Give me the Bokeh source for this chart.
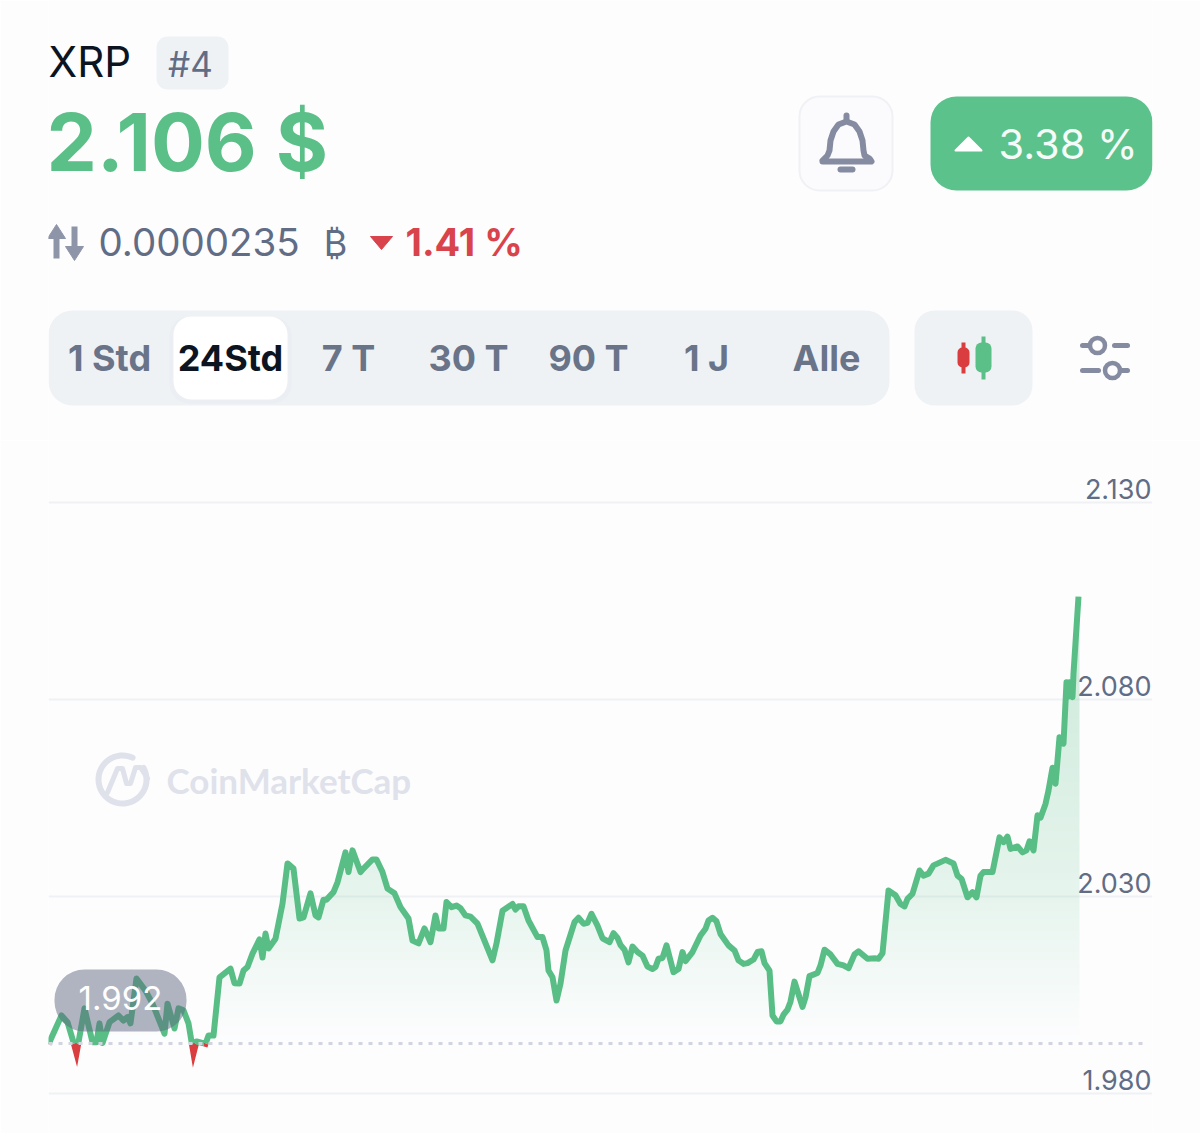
import numpy as np
from bokeh.core.properties import value
from bokeh.embed import file_html
from bokeh.layouts import column
from bokeh.models import FixedTicker, LinearAxis, NumeralTickFormatter, Range1d
from bokeh.plotting import figure
from bokeh.resources import INLINE

# ---------- data ----------
symbol = "XRP"
rank = "#4"
price_text = "2.106 $"
change_text = "3.38 %"
btc_price = "0.0000235"
btc_sign = "₿"
btc_change = "1.41 %"
periods = ["1 Std", "24Std", "7 T", "30 T", "90 T", "1 J", "Alle"]
watermark = "CoinMarketCap"
start_price = 1.9927
start_label = "1.992"
y_ticks = [1.98, 2.03, 2.08, 2.13]

elapsed = [0, 13, 19, 25, 28, 30, 36, 44, 48, 51, 54, 61, 70, 75, 79, 82, 88, 97, 104, 116, 119, 126,
           130, 135, 140, 143, 145, 148, 157, 160, 165, 171, 182, 186, 191, 195, 199, 204, 211, 214,
           217, 220, 227, 234, 239, 245, 251, 255, 262, 267, 270, 275, 278, 285, 289, 297, 300, 304,
           312, 315, 324, 328, 334, 339, 346, 352, 360, 364, 370, 376, 382, 387, 390, 395, 398, 403,
           408, 412, 417, 422, 429, 444, 448, 454, 464, 467, 470, 475, 480, 489, 494, 498, 500, 504,
           508, 512, 517, 526, 530, 535, 539, 543, 549, 554, 561, 565, 569, 572, 576, 580, 584, 589,
           594, 599, 604, 607, 610, 614, 618, 625, 630, 634, 637, 644, 652, 657, 660, 664, 668, 672,
           680, 686, 690, 695, 699, 705, 709, 713, 716, 721, 724, 728, 732, 735, 739, 742, 746, 754,
           757, 761, 769, 772, 776, 782, 789, 795, 800, 806, 810, 819, 827, 830, 834, 840, 847, 852,
           856, 859, 864, 871, 875, 880, 885, 897, 905, 909, 913, 919, 924, 928, 932, 935, 944, 951,
           955, 959, 962, 969, 974, 978, 981, 985, 989, 992, 997, 1000, 1004, 1007, 1011, 1015, 1018,
           1019, 1021, 1024, 1025, 1030]
prices = [1.9925, 1.9998, 1.9981, 1.9930, 1.9902, 1.9930, 2.0016, 1.9930, 1.9930, 1.9978, 1.9928, 1.9981,
          1.9998, 1.9985, 1.9994, 1.9978, 2.0092, 2.0061, 2.0028, 1.9952, 2.0028, 1.9965,
          2.0016, 2.0011, 1.9978, 1.9932, 1.9902, 1.9932, 1.9926, 1.9947, 1.9947, 2.0095, 2.0117, 2.0080,
          2.0079, 2.0112, 2.0121, 2.0155, 2.0191, 2.0145,
          2.0206, 2.0168, 2.0193, 2.0282, 2.0384, 2.0371, 2.0244, 2.0247, 2.0308, 2.0252, 2.0247, 2.0292,
          2.0292, 2.0311, 2.0336, 2.0412, 2.0362, 2.0417,
          2.0362, 2.0371, 2.0394, 2.0394, 2.0362, 2.0320, 2.0308, 2.0273, 2.0244, 2.0188, 2.0181, 2.0219,
          2.0184, 2.0252, 2.0219, 2.0219, 2.0286, 2.0273,
          2.0277, 2.0270, 2.0252, 2.0249, 2.0231, 2.0138, 2.0181, 2.0264, 2.0281, 2.0267, 2.0275, 2.0275,
          2.0239, 2.0197, 2.0197, 2.0163, 2.0112, 2.0095,
          2.0036, 2.0079, 2.0163, 2.0235, 2.0246, 2.0231, 2.0233, 2.0256, 2.0226, 2.0194, 2.0184, 2.0207,
          2.0195, 2.0177, 2.0165, 2.0133, 2.0173, 2.0159,
          2.0150, 2.0122, 2.0116, 2.0121, 2.0142, 2.0144, 2.0176, 2.0108, 2.0116, 2.0159, 2.0136, 2.0159,
          2.0201, 2.0218, 2.0239, 2.0246, 2.0237, 2.0205,
          2.0176, 2.0163, 2.0138, 2.0129, 2.0131, 2.0140, 2.0159, 2.0161, 2.0131, 2.0112, 1.9998, 1.9983,
          1.9983, 2.0000, 2.0013, 2.0033, 2.0084, 2.0020,
          2.0044, 2.0098, 2.0106, 2.0125, 2.0165, 2.0153, 2.0129, 2.0125, 2.0118, 2.0153, 2.0161, 2.0142,
          2.0143, 2.0142, 2.0156, 2.0315, 2.0303, 2.0281,
          2.0275, 2.0294, 2.0307, 2.0366, 2.0353, 2.0358, 2.0379, 2.0393, 2.0384, 2.0353, 2.0345, 2.0298,
          2.0311, 2.0298, 2.0353, 2.0362, 2.0362, 2.0450,
          2.0438, 2.0452, 2.0421, 2.0427, 2.0412, 2.0417, 2.0440, 2.0417, 2.0506, 2.0500, 2.0535, 2.0569,
          2.0627, 2.0586, 2.0704, 2.0688, 2.0844,
          2.0806, 2.0844, 2.0806, 2.0866, 2.1061]

# ---------- styles ----------
BG = "#fdfdfe"
GREEN = "#5bbf88"
RED = "#d9434b"
SLATE = "#616c85"
PANEL = "#eff2f5"
ICON = "#858ca1"
DARK = "#0d1421"
FONT = value("Inter")
PX_PER_UNIT = 3940  # screen pixels per unit of price
BASE_FIX = 0.37     # Bokeh draws alphabetic text this share of the size too low; compensate


def txt(p, x, y, s, size, color, align="left", style="normal", font=FONT, **kw):
    p.text(x=[x], y=[y - BASE_FIX * size], text=[s], text_font=font, text_font_size=f"{size}px", text_color=color,
           text_align=align, text_baseline="alphabetic", text_font_style=style, **kw)


# ---------- header (drawn in page pixels) ----------
h = figure(width=1200, height=440, output_backend="svg", toolbar_location=None,
           x_range=Range1d(48, 1152), y_range=Range1d(440, 0), min_border=0,
           min_border_left=48, min_border_right=48,
           background_fill_color=BG, border_fill_color=BG, outline_line_color=None)
h.axis.visible = False
h.grid.visible = False


def box(p, l, r, t, b, fill, radius, line=None, lw=1, alpha=1.0, **kw):
    p.quad(left=[l], right=[r], top=[t], bottom=[b], fill_color=fill, fill_alpha=alpha,
           line_color=line, line_width=lw, border_radius=radius, **kw)


txt(h, 48, 77, symbol, 42, DARK)
box(h, 156, 228, 36, 89, PANEL, 11)
txt(h, 190, 76, rank, 35, SLATE, align="center")
txt(h, 46, 171, price_text, 80, GREEN, style="bold")

# exchange arrows
h.multi_line(xs=[[56, 56], [74, 74]], ys=[[258, 232], [226, 252]], line_color="#8e95a9", line_width=6)
h.patch(x=[47, 56, 65], y=[238, 224, 238], fill_color="#8e95a9", line_color="#8e95a9", line_width=1, line_join="round")
h.patch(x=[65, 74, 83], y=[246, 260, 246], fill_color="#8e95a9", line_color="#8e95a9", line_width=1, line_join="round")
txt(h, 98, 256, btc_price, 38.5, SLATE)
txt(h, 335, 256, btc_sign, 36, SLATE, align="center")
h.patch(x=[370, 392, 381], y=[236, 236, 249], fill_color=RED, line_color=RED, line_width=1, line_join="round")
txt(h, 405, 256, btc_change, 38, RED, style="bold")

# bell button
box(h, 799, 892, 96, 190, "#fbfbfd", 20, line="#f0f1f5", lw=2)
h.line(x=[822, 827, 829, 830, 833, 838, 846, 854, 859, 862, 863, 864, 869, 871, 822],
       y=[160, 155, 150, 140, 131, 124, 121, 124, 131, 140, 150, 155, 158, 161, 161],
       line_color=ICON, line_width=6, line_join="round", line_cap="round")
h.line(x=[846, 846], y=[115, 120], line_color=ICON, line_width=6, line_cap="round")
h.line(x=[840, 852], y=[169, 169], line_color=ICON, line_width=6, line_cap="round")

# change button
box(h, 930, 1152, 96, 190, "#5cc28b", 26)
h.patch(x=[955, 968, 981], y=[150, 137, 150], fill_color="#ffffff", line_color="#ffffff", line_width=2, line_join="round")
txt(h, 998, 159, change_text, 41.5, "#f5fbf8")

# period selector
box(h, 48, 889, 310, 405, PANEL, 24)
box(h, 169, 291, 316, 403, "#dfe3ea", 20, alpha=0.25)
box(h, 173, 287, 316, 399, "#ffffff", 18)
for label, cx in zip(periods, [109, 230, 348, 468, 588, 706, 826]):
    sel = label == "24Std"
    txt(h, cx, 371, label, 36, DARK if sel else "#6a7489", align="center", style="bold")

# candle button
box(h, 914, 1032, 310, 405, PANEL, 20)
h.segment(x0=[963], x1=[963], y0=[342], y1=[373], line_color="#d93d3f", line_width=4)
h.quad(left=[957], right=[969], top=[347], bottom=[367], fill_color="#d93d3f", line_color=None, border_radius=5)
h.segment(x0=[983], x1=[983], y0=[336], y1=[379], line_color=GREEN, line_width=4)
h.quad(left=[975], right=[991], top=[342], bottom=[372], fill_color=GREEN, line_color=None, border_radius=6)

# settings sliders
h.multi_line(xs=[[1082, 1088], [1114, 1127], [1082, 1098], [1122, 1127]],
             ys=[[345, 345], [345, 345], [370, 370], [370, 370]],
             line_color=ICON, line_width=5, line_cap="round")
h.scatter(x=[1097, 1112], y=[345, 370], size=15, marker="circle", fill_color=None, line_color=ICON, line_width=4.5)

# ---------- chart ----------
def v_at(y_px):
    return 1.98 + (1093 - y_px) / PX_PER_UNIT


y0, y1 = v_at(1133), v_at(440)
p = figure(width=1200, height=693, frame_width=1104, frame_height=693, output_backend="svg", toolbar_location=None,
           x_range=Range1d(0, 1104), y_range=Range1d(y0, y1),
           min_border=0, min_border_left=48, min_border_right=48,
           background_fill_color=BG, border_fill_color=BG, outline_line_color=None)
p.extra_x_ranges["px"] = Range1d(48, 1152)
p.extra_y_ranges["px"] = Range1d(1133, 440)
label_shift = 14 / PX_PER_UNIT
p.extra_y_ranges["labels"] = Range1d(y0 - label_shift, y1 - label_shift)

p.xaxis.visible = False
p.yaxis.visible = False
p.xgrid.visible = False
p.ygrid.ticker = FixedTicker(ticks=y_ticks)
p.ygrid.grid_line_color = "#eff1f4"
p.ygrid.grid_line_width = 2

axis = LinearAxis(y_range_name="labels", ticker=FixedTicker(ticks=y_ticks),
                  formatter=NumeralTickFormatter(format="0.000"), fixed_location=1103,
                  axis_line_color=None, major_tick_line_color=None, minor_tick_line_color=None,
                  major_tick_in=0, major_tick_out=0, minor_tick_out=0,
                  major_label_standoff=0, major_label_text_font="Inter",
                  major_label_text_font_size="27px", major_label_text_color=SLATE)
p.add_layout(axis, "left")

xs = np.array(elapsed, float)
ys = np.array(prices, float)

# gradient area under the line
grid_x = np.arange(0, int(xs[-1]) + 1)
curve = np.interp(grid_x + 0.5, xs, ys)
rows = int((ys.max() - start_price) * PX_PER_UNIT) + 1
levels = start_price + (np.arange(rows) + 0.5) / PX_PER_UNIT
heights = np.arange(rows) + 0.5
alpha = np.interp(heights, [0, 43, 147, 343, 497], [0.0, 0.04, 0.14, 0.25, 0.30])
mask = levels[:, None] <= curve[None, :]
img = np.zeros((rows, grid_x.size), dtype=np.uint32)
view = img.view(dtype=np.uint8).reshape((rows, grid_x.size, 4))
view[..., 0], view[..., 1], view[..., 2] = 0x58, 0xBE, 0x85
view[..., 3] = (alpha[:, None] * mask * 255).astype(np.uint8)
p.image_rgba(image=[img], x=0, y=start_price, dw=float(grid_x.size), dh=rows / PX_PER_UNIT)


def split(x, y, base, above):
    out_x, out_y = [], []
    for a, b, c, d in zip(x[:-1], x[1:], y[:-1], y[1:]):
        ca, cd = (c >= base), (d >= base)
        if ca == above and cd == above:
            seg = [(a, c), (b, d)]
        elif ca == cd:
            continue
        else:
            t = (base - c) / (d - c)
            cross = (a + t * (b - a), base)
            seg = [(a, c), cross] if ca == above else [cross, (b, d)]
        if out_x and out_x[-1] == seg[0][0] and out_y[-1] == seg[0][1]:
            out_x.append(seg[1][0]); out_y.append(seg[1][1])
        else:
            if out_x:
                out_x.append(np.nan); out_y.append(np.nan)
            out_x += [seg[0][0], seg[1][0]]; out_y += [seg[0][1], seg[1][1]]
    return out_x, out_y


rx, ry = split(xs, ys, start_price, False)
gx, gy = split(xs, ys, start_price, True)
p.line(x=rx, y=ry, line_color="#d93d3f", line_width=6, line_join="miter")
p.line(x=gx, y=gy, line_color="#58be85", line_width=6, line_join="round")

# start price reference
p.line(x=[0, 1099], y=[start_price, start_price], line_color="#d2d5e1", line_width=3, line_dash="4 6")

# start price pill
p.quad(left=[54], right=[186], top=[969], bottom=[1031], fill_color="#5c647f", fill_alpha=0.48, line_color=None,
       border_radius=30, x_range_name="px", y_range_name="px")
txt(p, 120, 1010, start_label, 33, "#ffffff", align="center", x_range_name="px", y_range_name="px")

# watermark
WM = "#dfe2ea"
ang = np.radians(np.arange(65, 391, 6))
p.line(x=list(122 + 24 * np.cos(ang)), y=list(779 - 24 * np.sin(ang)), line_color=WM, line_width=6, line_cap="round",
       x_range_name="px", y_range_name="px")
p.line(x=[107, 117, 122, 126, 130, 135, 140, 147], y=[792, 768, 768, 783, 783, 767, 767, 778], line_color=WM, line_width=5,
       line_join="round", line_cap="round", x_range_name="px", y_range_name="px")
txt(p, 166, 792, watermark, 35, WM, style="bold", font=value("Lato"), x_range_name="px", y_range_name="px")

page = column(h, p, spacing=0)
open("out.html", "w").write(file_html(page, INLINE))
